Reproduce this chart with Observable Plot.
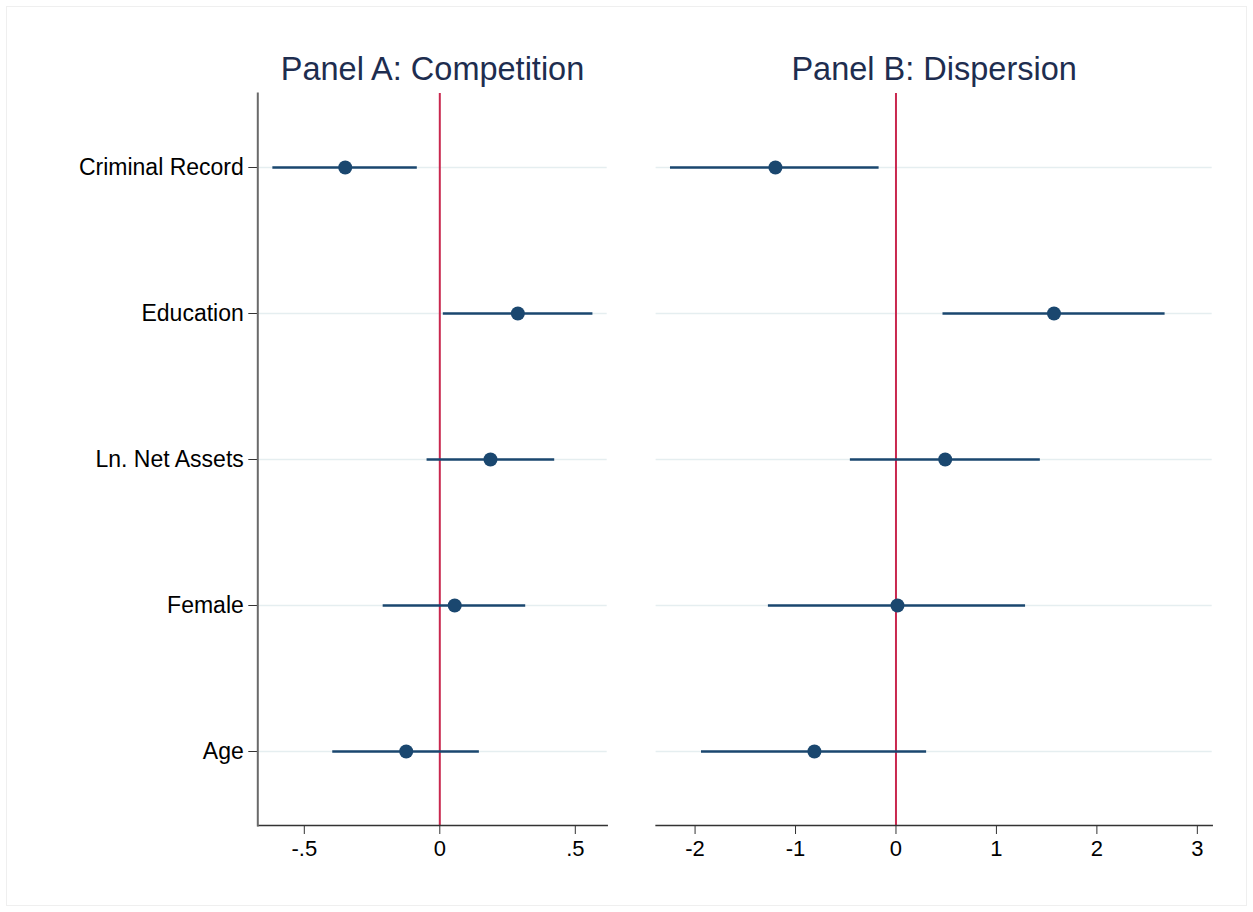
<!DOCTYPE html>
<html><head><meta charset="utf-8">
<script src="https://cdn.jsdelivr.net/npm/d3@7"></script>
<script src="https://cdn.jsdelivr.net/npm/@observablehq/plot@0.6"></script>
<style>
body{margin:0;background:#fff;}
#wrap{position:relative;width:1253px;height:912px;overflow:hidden;background:#fff;}
#wrap svg{position:absolute;left:0;top:0;}
#border{position:absolute;left:6px;top:6px;right:6px;bottom:6px;border:1px solid #efefef;}
</style></head><body><div id="wrap"><div id="border"></div></div>
<script>
const variables = ["Criminal Record", "Education", "Ln. Net Assets", "Female", "Age"];
const compEst = [-0.349, 0.288, 0.187, 0.055, -0.124];
const compLo  = [-0.616, 0.013, -0.047, -0.209, -0.395];
const compHi  = [-0.083, 0.565, 0.424, 0.317, 0.146];
const dispEst = [-1.200, 1.573, 0.490, 0.015, -0.812];
const dispLo  = [-2.245, 0.468, -0.454, -1.270, -1.936];
const dispHi  = [-0.168, 2.679, 1.437, 1.290, 0.305];
const compTicks = [-0.5, 0, 0.5];
const dispTicks = [-2, -1, 0, 1, 2, 3];
const titles = ["Panel A: Competition", "Panel B: Dispersion"];

const fmt = d => d === 0 ? "0" : String(d).replace("0.", ".");
const font = "'Liberation Sans', Arial, Helvetica, sans-serif";

function panel({est, lo, hi, domain, ticks, title, left, right, showY}) {
  const data = variables.map((v, i) => ({v, est: est[i], lo: lo[i], hi: hi[i]}));
  return Plot.plot({
    width: 1253, height: 912,
    marginLeft: left, marginRight: 1253 - right, marginTop: 93, marginBottom: 87,
    style: {background: "transparent", fontFamily: font, overflow: "visible"},
    x: {domain, ticks, tickFormat: fmt},
    y: {type: "point", domain: variables, padding: 0.5, axis: null},
    marks: [
      Plot.ruleY(variables, {y: d => d, stroke: "#e5eef0", strokeWidth: 1.6}),
      Plot.ruleX([0], {stroke: "#c9284f", strokeWidth: 2}),
      Plot.ruleY(data, {y: "v", x1: "lo", x2: "hi", stroke: "#1a476f", strokeWidth: 2.4}),
      Plot.dot(data, {x: "est", y: "v", r: 7, fill: "#1a476f"}),
      Plot.axisX({ticks, tickFormat: fmt, tickSize: 9, tickPadding: 6, fontSize: 22, color: "#000", stroke: "#333", label: null}),
      Plot.frame({anchor: "bottom", stroke: "#333", strokeWidth: 1.5}),
      showY ? Plot.axisY({tickSize: 9, tickPadding: 5, fontSize: 23, color: "#000", stroke: "#333", label: null}) : null,
      showY ? Plot.frame({anchor: "left", stroke: "#6a6a6a", strokeWidth: 2}) : null,
      Plot.text([title], {frameAnchor: "top", dy: -14, fontSize: 32.5, fill: "#1e2d4f", lineAnchor: "bottom"})
    ]
  });
}

const wrap = document.getElementById("wrap");
wrap.appendChild(panel({est: compEst, lo: compLo, hi: compHi, domain: [-0.6716, 0.6177], ticks: compTicks, title: titles[0], left: 257.3, right: 606.7, showY: true}));
wrap.appendChild(panel({est: dispEst, lo: dispLo, hi: dispHi, domain: [-2.388, 3.148], ticks: dispTicks, title: titles[1], left: 655.6, right: 1211.7, showY: false}));
</script></body></html>
